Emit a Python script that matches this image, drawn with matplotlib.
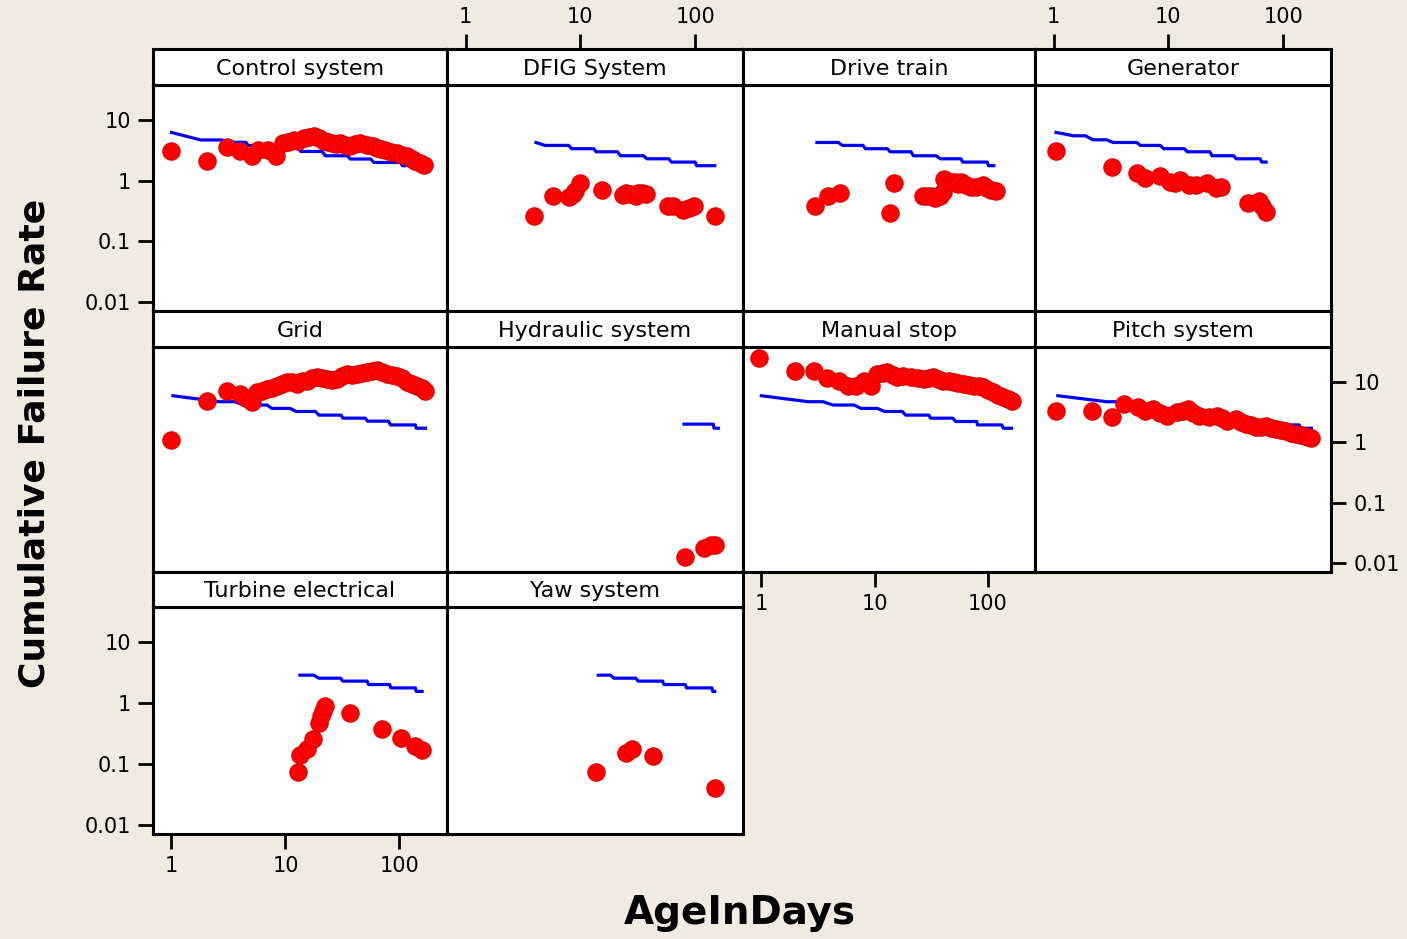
import matplotlib
matplotlib.use("Agg")
import matplotlib.pyplot as plt
from matplotlib.ticker import FixedLocator, FixedFormatter, NullLocator

W, H = 1407, 939
BG = "#EFEBE0"

titles = ["Control system", "DFIG System", "Drive train", "Generator",
          "Grid", "Hydraulic system", "Manual stop", "Pitch system",
          "Turbine electrical", "Yaw system"]

# red points: observed cumulative failure rate
rx1 = [1.0, 2.06, 3.04, 3.98, 5.1, 5.8, 7.0, 8.2, 9.5, 10.5, 11.8, 13.0, 14.5, 16.0, 17.8, 19.5,
       21.7, 23.5, 25.7, 28, 30.3, 33.5, 37, 41, 45.5, 52, 58, 63.7, 69, 75, 85, 95.5, 105, 117,
       128, 138, 150, 163]
ry1 = [3.12, 2.13, 3.54, 3.12, 2.58, 3.24, 3.24, 2.51, 4.18, 4.3, 4.74, 4.6, 5.05, 5.2, 5.37, 5.1,
       4.44, 4.3, 4.18, 4.0, 4.18, 3.9, 3.67, 4.0, 4.18, 3.92, 3.7, 3.45, 3.35, 3.24, 3.0, 2.86, 2.7,
       2.51, 2.3, 2.08, 1.95, 1.83]
rx2 = [3.97, 5.83, 8.0, 8.6, 9.0, 9.9, 15.5, 23.5, 24.8, 27, 30.3, 32, 34.6, 37, 58.5, 63.5, 79,
       88, 98.6, 148]
ry2 = [0.258, 0.55, 0.54, 0.6, 0.667, 0.92, 0.71, 0.59, 0.63, 0.6, 0.57, 0.63, 0.63, 0.61, 0.39,
       0.38, 0.33, 0.35, 0.39, 0.258]
rx3 = [3.0, 3.9, 5.0, 13.7, 14.7, 26.9, 29, 31.8, 34.5, 37.7, 40, 41, 44, 47, 51, 55, 58, 64, 71,
       78, 90, 98, 107, 118]
ry3 = [0.38, 0.55, 0.63, 0.29, 0.92, 0.55, 0.55, 0.55, 0.52, 0.55, 0.65, 1.07, 0.95, 0.97, 0.97,
       0.9, 0.94, 0.85, 0.8, 0.78, 0.86, 0.76, 0.71, 0.69]
rx4 = [1.05, 3.2, 5.3, 6.3, 8.5, 10.4, 11.5, 12.7, 15, 17.3, 21.8, 25.9, 28.6, 49, 62, 66, 71]
ry4 = [3.12, 1.68, 1.34, 1.11, 1.18, 0.97, 0.93, 1.04, 0.86, 0.86, 0.91, 0.76, 0.8, 0.43, 0.46,
       0.38, 0.31]
rx5 = [1.0, 2.06, 3.04, 3.98, 4.5, 5.1, 5.65, 6.2, 6.9, 7.6, 8.45, 9.3, 10.4, 11.5, 12.6, 14,
       15.5, 17, 19, 21, 23.2, 25.7, 28.4, 31.5, 34.7, 38, 42.5, 47, 52, 57, 63.6, 70, 77.8, 86,
       95.4, 105, 117, 130, 143, 156, 169]
ry5 = [1.09, 4.88, 7.16, 6.3, 5.5, 4.6, 6.7, 7.0, 7.6, 8.0, 8.7, 9.4, 9.9, 9.9, 9.3, 10.2, 10.5,
       11.5, 12, 11.8, 11.2, 10.8, 11.2, 12.5, 13.6, 13.0, 13.6, 14.0, 14.5, 15.0, 15.5, 14.8, 13.6,
       13.2, 12.7, 11.5, 9.9, 9.2, 8.7, 8.0, 7.2]
rx6 = [82, 120, 138, 150]
ry6 = [0.0126, 0.0178, 0.02, 0.02]
rx7 = [0.95, 1.98, 2.92, 3.82, 4.9, 5.8, 6.9, 8.1, 9.3, 10.6, 11.8, 13, 14.5, 15.9, 18, 20.8,
       24, 27.3, 30, 33, 36.5, 40.6, 45, 50, 55, 61, 68, 75, 83, 91.5, 101, 112, 124, 137, 150, 162]
ry7 = [24.8, 15.4, 15.4, 11.5, 10.5, 8.7, 8.7, 10.5, 8.7, 13.6, 14.0, 14.5, 13.0, 12, 12.3, 12,
       11.8, 11.2, 11.6, 12, 11.2, 10.5, 10.2, 9.9, 9.6, 9.3, 9.0, 8.7, 8.4, 8.1, 7.4, 6.7, 6.1,
       5.56, 5.2, 4.88]
rx8 = [1.05, 2.17, 3.25, 4.14, 5.4, 6.3, 7.4, 8.5, 9.7, 11.9, 13.3, 14.8, 16.5, 18.4, 22.6, 26.7,
       29.5, 32.7, 38.7, 43, 47.3, 52, 58, 64, 71, 78, 87, 96, 106, 118, 130, 142, 154, 165, 176]
ry8 = [3.33, 3.33, 2.58, 4.3, 3.79, 3.33, 3.55, 3.1, 2.74, 3.12, 3.3, 3.55, 3.1, 2.74, 2.58, 2.74,
       2.5, 2.26, 2.42, 2.2, 2.0, 1.9, 1.76, 1.8, 1.87, 1.75, 1.65, 1.6, 1.54, 1.45, 1.36, 1.32,
       1.27, 1.23, 1.2]
rx9 = [12.8, 13.5, 15.3, 17.5, 19.6, 20.3, 21.2, 22.4, 36.7, 70.5, 103, 138, 158]
ry9 = [0.075, 0.14, 0.176, 0.257, 0.48, 0.62, 0.75, 0.9, 0.70, 0.375, 0.264, 0.2, 0.17]
rx10 = [13.7, 24.8, 28.4, 42.6, 148]
ry10 = [0.075, 0.155, 0.176, 0.137, 0.04]

# blue reference lines (vertices)
bx1 = [1.0, 1.8, 2.8, 2.9, 4.5, 4.7, 7.5, 7.8, 13, 13.6, 21, 22.4, 35, 37, 56, 59.5, 102, 106, 112]
by1 = [6.25, 4.7, 4.7, 4.3, 4.3, 3.8, 3.8, 3.4, 3.4, 3.04, 3.04, 2.58, 2.58, 2.28, 2.28, 2.0, 2.0,
       1.77, 1.77]
bx2 = [4.1, 4.9, 7.9, 8.4, 13.1, 13.7, 21, 22.4, 35.5, 38, 59, 62, 100, 103, 148]
by2 = [4.27, 3.82, 3.82, 3.37, 3.37, 3.0, 3.0, 2.58, 2.58, 2.3, 2.3, 2.03, 2.03, 1.77, 1.77]
bx3 = [3.1, 4.8, 5.2, 7.9, 8.3, 13, 13.7, 21, 22, 35, 38, 58, 60, 99, 101, 113]
by3 = [4.27, 4.27, 3.82, 3.82, 3.37, 3.37, 3.0, 3.0, 2.58, 2.58, 2.3, 2.3, 2.03, 2.03, 1.77, 1.77]
bx4 = [1.05, 1.5, 1.9, 2.2, 2.9, 3.3, 5.3, 5.7, 8.5, 9.1, 13.8, 14.6, 23, 24, 37, 39, 63, 65, 71]
by4 = [6.25, 5.5, 5.5, 4.73, 4.73, 4.27, 4.27, 3.82, 3.82, 3.37, 3.37, 3.0, 3.0, 2.58, 2.58, 2.3,
       2.3, 2.03, 2.03]
bx5 = [1.03, 2.6, 3.6, 4.3, 6.9, 7.6, 11, 12.4, 18.3, 19.6, 30.8, 31.8, 50, 52.5, 80, 83.5, 138,
       140, 169]
by5 = [5.9, 4.7, 4.7, 4.14, 4.14, 3.64, 3.64, 3.24, 3.24, 2.82, 2.82, 2.51, 2.51, 2.24, 2.24, 1.94,
       1.94, 1.71, 1.71]
bx6 = [80, 144, 146, 159]
by6 = [2.0, 2.0, 1.71, 1.71]
bx7 = [1.0, 2.6, 3.5, 4.3, 6.6, 7.6, 10.6, 12.2, 17.6, 18.8, 30.2, 31.2, 49, 52, 80, 81, 133, 137,
       162]
by7 = [5.9, 4.7, 4.7, 4.14, 4.14, 3.64, 3.64, 3.24, 3.24, 2.82, 2.82, 2.51, 2.51, 2.21, 2.21, 1.94,
       1.94, 1.71, 1.71]
bx8 = [1.09, 2.9, 3.6, 4.3, 6.9, 7.6, 11, 12.4, 18.3, 19.6, 30.8, 31.8, 50, 52.5, 80, 83.5, 138,
       142, 176]
by8 = [5.9, 4.7, 4.7, 4.14, 4.14, 3.64, 3.64, 3.24, 3.24, 2.82, 2.82, 2.51, 2.51, 2.24, 2.24, 1.94,
       1.94, 1.71, 1.71]
bx9 = [13.4, 17.7, 19.6, 30.4, 31.8, 52, 53.5, 82, 84, 138, 140, 158]
by9 = [2.88, 2.88, 2.57, 2.57, 2.3, 2.3, 2.02, 2.02, 1.78, 1.78, 1.56, 1.56]
bx10 = [14.3, 18.3, 19.6, 30.4, 31.8, 52, 53.5, 82, 84, 140, 142, 148]
by10 = [2.88, 2.88, 2.57, 2.57, 2.3, 2.3, 2.02, 2.02, 1.78, 1.78, 1.56, 1.56]

red_x = [rx1, rx2, rx3, rx4, rx5, rx6, rx7, rx8, rx9, rx10]
red_y = [ry1, ry2, ry3, ry4, ry5, ry6, ry7, ry8, ry9, ry10]
blue_x = [bx1, bx2, bx3, bx4, bx5, bx6, bx7, bx8, bx9, bx10]
blue_y = [by1, by2, by3, by4, by5, by6, by7, by8, by9, by10]

x_ticks = [1, 10, 100]
x_labels = ["1", "10", "100"]
y_ticks = [0.01, 0.1, 1, 10]
y_labels = ["0.01", "0.1", "1", "10"]
XLIM = (0.689, 261)
YLIM = (0.00714, 37.8)

# layout in pixels
col_l = [153, 447, 743, 1035]
col_r = [447, 743, 1035, 1331]
strip_t = [49, 311, 572]
plot_t = [85, 347, 607]
plot_b = [311, 572, 834]


def rect(x0, y0, x1, y1):
    return [x0 / W, 1 - y1 / H, (x1 - x0) / W, (y1 - y0) / H]


plt.rcParams['font.family'] = 'DejaVu Sans'
fig = plt.figure(figsize=(W / 100, H / 100), dpi=100, facecolor=BG)

FS = 15
for i, name in enumerate(titles):
    r, c = i // 4, i % 4
    ax = fig.add_axes(rect(col_l[c], plot_t[r], col_r[c], plot_b[r]))
    ax.set_xscale('log')
    ax.set_yscale('log')
    ax.set_xlim(*XLIM)
    ax.set_ylim(*YLIM)
    ax.plot(blue_x[i], blue_y[i], color='#0000FF', lw=2.3, zorder=2)
    ax.plot(red_x[i], red_y[i], 'o', color='#FF0000', mec='#E00000', mew=0.8, ms=12.5, zorder=3)
    for s in ax.spines.values():
        s.set_linewidth(2.2)
    ax.xaxis.set_minor_locator(NullLocator())
    ax.yaxis.set_minor_locator(NullLocator())
    ax.tick_params(which='both', direction='out', length=11, width=2, labelsize=FS, pad=5)

    # y ticks
    if (r, c) in [(0, 0), (2, 0)]:
        ax.yaxis.set_major_locator(FixedLocator(y_ticks))
        ax.yaxis.set_major_formatter(FixedFormatter(y_labels))
    elif (r, c) == (1, 3):
        ax.yaxis.tick_right()
        ax.yaxis.set_major_locator(FixedLocator(y_ticks))
        ax.yaxis.set_major_formatter(FixedFormatter(y_labels))
    else:
        ax.set_yticks([])
    # bottom x ticks
    if (r, c) in [(2, 0), (1, 2)]:
        ax.xaxis.set_major_locator(FixedLocator(x_ticks))
        ax.xaxis.set_major_formatter(FixedFormatter(x_labels))
    else:
        ax.set_xticks([])

    # strip
    sx = fig.add_axes(rect(col_l[c], strip_t[r], col_r[c], plot_t[r]))
    sx.set_facecolor('white')
    for s in sx.spines.values():
        s.set_linewidth(2.2)
    sx.set_yticks([])
    sx.text(0.5, 0.45, name, ha='center', va='center', fontsize=16, transform=sx.transAxes)
    if r == 0 and c in (1, 3):
        sx.set_xscale('log')
        sx.set_xlim(*XLIM)
        sx.xaxis.tick_top()
        sx.xaxis.set_minor_locator(NullLocator())
        sx.xaxis.set_major_locator(FixedLocator(x_ticks))
        sx.xaxis.set_major_formatter(FixedFormatter(x_labels))
        sx.tick_params(which='both', direction='out', length=11, width=2, labelsize=FS, pad=5)
    else:
        sx.set_xticks([])

fig.text(35 / W, 1 - 443 / H, "Cumulative Failure Rate", rotation=90, ha='center', va='center',
         fontsize=26, fontweight='heavy')
fig.text(740 / W, 1 - 913 / H, "AgeInDays", ha='center', va='center', fontsize=28,
         fontweight='heavy')

fig.savefig("out.png", dpi=100, facecolor=BG)
